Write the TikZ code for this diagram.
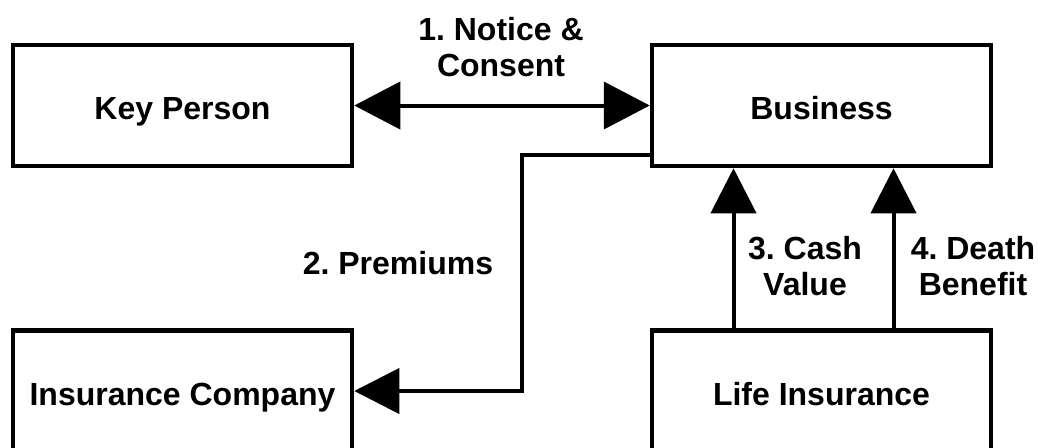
\documentclass[tikz,border=0pt]{standalone}
\usepackage{fontspec}
\setmainfont{Liberation Sans}
\usetikzlibrary{arrows.meta}

\begin{document}
\frenchspacing
\begin{tikzpicture}[x=1pt,y=-1pt,
  every node/.style={font=\fontsize{32}{36}\selectfont\bfseries},
  box/.style={draw,line width=4.5pt,rectangle,minimum width=339pt,minimum height=121pt,text height=28pt,text depth=0pt},
  lbl/.style={align=center,inner sep=0pt},
  flow/.style={line width=4pt,-{Triangle[length=45pt,width=45pt]}},
  both/.style={line width=4pt,{Triangle[length=46pt,width=47pt]}-{Triangle[length=46pt,width=47pt]}}]
\clip (0,0) rectangle (1038,447);
\node[box] (key) at (182.5,105.5) {Key Person};
\node[box] (business) at (821.5,105.5) {Business};
\node[box] (insurer) at (182.5,391) {Insurance Company};
\node[box] (life) at (821.5,391) {Life Insurance};
\draw[both] (key.east) -- (business.west);
\draw[flow] ([yshift=-49pt]business.west) -- ++(-128,0) |- (insurer.east);
\draw[flow] ([xshift=-88pt]life.north) -- ([xshift=-88pt]business.south);
\draw[flow] ([xshift=72pt]life.north) -- ([xshift=72pt]business.south);
\node[lbl] (notice) at (501,47) {1. Notice \&\\Consent};
\node[lbl] (premiums) at (398,263) {2. Premiums};
\node[lbl] (cash) at (805,266) {3. Cash\\Value};
\node[lbl] (death) at (973,266) {4. Death\\Benefit};
\end{tikzpicture}
\end{document}
